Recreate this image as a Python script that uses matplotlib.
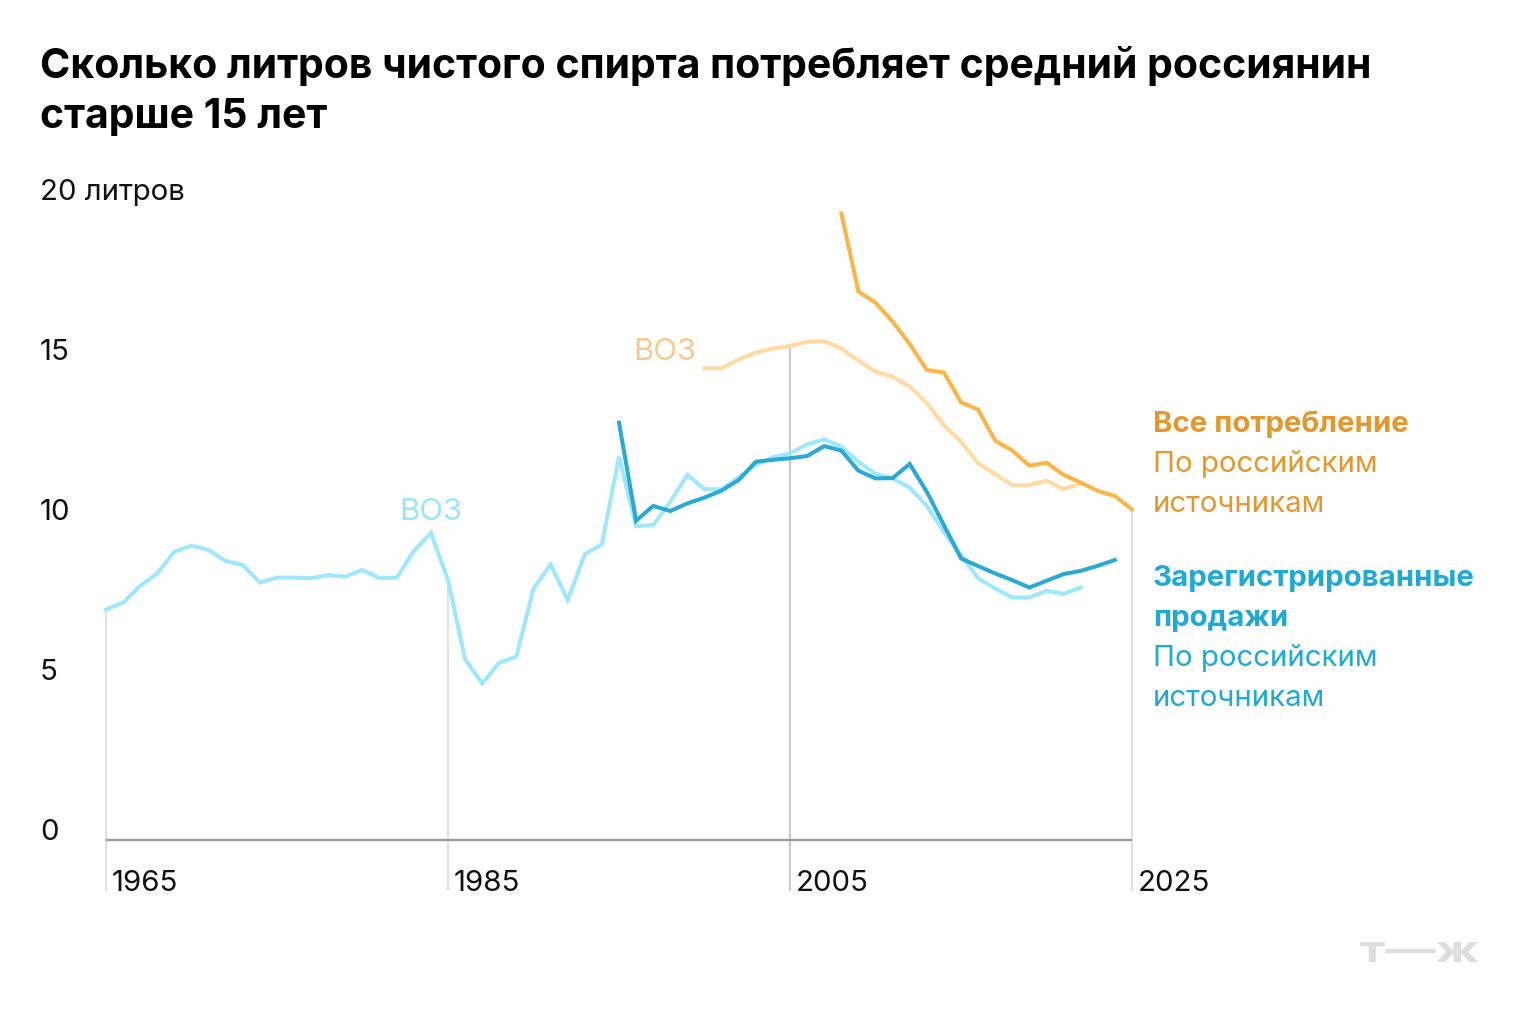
import matplotlib
matplotlib.use("Agg")
import matplotlib.pyplot as plt
import matplotlib.transforms as mtransforms
from matplotlib.textpath import TextPath
from matplotlib.patches import PathPatch
from matplotlib.font_manager import FontProperties
import numpy as np

plt.rcParams['font.family'] = ['Inter', 'DejaVu Sans']

# ---------------- data ----------------
who_years = list(range(1965, 2023))
who_values = [7.2, 7.42, 7.94, 8.33, 9.01, 9.20, 9.06, 8.72, 8.59, 8.05,
              8.20, 8.20, 8.18, 8.28, 8.23, 8.44, 8.18, 8.20, 9.03, 9.60,
              8.12, 5.65, 4.89, 5.54, 5.73, 7.86, 8.61, 7.50, 8.93, 9.24,
              11.98, 9.81, 9.84, 10.57, 11.41, 10.96, 10.96, 11.33, 11.72, 11.96,
              12.08, 12.36, 12.52, 12.29, 11.82, 11.44, 11.30, 11.01, 10.44, 9.63,
              8.90, 8.18, 7.86, 7.58, 7.58, 7.79, 7.69, 7.89]

sales_years = list(range(1995, 2025))
sales_values = [13.04, 9.98, 10.44, 10.28, 10.52, 10.70, 10.92, 11.25, 11.82, 11.88,
                11.93, 12.00, 12.31, 12.17, 11.54, 11.30, 11.31, 11.75, 10.88, 9.84,
                8.80, 8.56, 8.33, 8.12, 7.89, 8.10, 8.31, 8.41, 8.57, 8.75]

who_total_years = list(range(2000, 2023))
who_total_values = [14.74, 14.74, 15.02, 15.23, 15.36, 15.44, 15.57, 15.59, 15.36, 14.98,
                    14.64, 14.48, 14.17, 13.65, 12.96, 12.45, 11.77, 11.43, 11.09, 11.09,
                    11.23, 10.97, 11.14]

total_years = list(range(2008, 2026))
total_values = [19.58, 17.14, 16.79, 16.20, 15.50, 14.69, 14.61, 13.68, 13.45, 12.48,
                12.17, 11.70, 11.79, 11.41, 11.17, 10.91, 10.75, 10.33]

x_ticks = [1965, 1985, 2005, 2025]
y_ticks = [0, 5, 10, 15, 20]
y_tick_labels = ['0', '5', '10', '15', '20 литров']

title_lines = ["Сколько литров чистого спирта потребляет средний россиянин",
               "старше 15 лет"]

# ---------------- colours ----------------
c_who = '#9ee7fd'
c_sales = '#2aa9d2'
c_who_total = '#ffdaa3'
c_total = '#fdb446'
c_legend_orange = '#e3972f'
c_legend_blue = '#1fa9d3'
c_who_text_orange = '#f4cb8e'
c_who_text_blue = '#9be4fb'

W, H = 1520, 1022
fig = plt.figure(figsize=(W / 100, H / 100), dpi=100)
fig.patch.set_facecolor('white')

def fx(px):
    return px / W

def fy(py):
    return 1 - py / H

ax = fig.add_axes([fx(106), fy(840), fx(1132) - fx(106), fy(200) - fy(840)])
ax.set_xlim(1965, 2025)
ax.set_ylim(0, 20)
ax.axis('off')

def value_at(years, values, yr):
    return values[years.index(yr)]

vtops = {
    1965: value_at(who_years, who_values, 1965),
    1985: value_at(who_years, who_values, 1985),
    2005: value_at(who_total_years, who_total_values, 2005),
    2025: value_at(total_years, total_values, 2025),
}
for yr in x_ticks:
    col = '#c9c9c9' if yr == 2005 else '#e2e2e2'
    ax.plot([yr, yr], [-1.58, vtops[yr]], color=col, lw=1.4, clip_on=False, zorder=1,
            solid_capstyle='butt')

ax.plot([1965, 2025], [0, 0], color='#9a9a9a', lw=1.6, clip_on=False, zorder=2,
        solid_capstyle='butt')

lw = 2.9
ax.plot(who_total_years, who_total_values, color=c_who_total, lw=lw, zorder=3,
        clip_on=False, solid_joinstyle='miter')
ax.plot(total_years, total_values, color=c_total, lw=lw, zorder=4, clip_on=False,
        solid_joinstyle='miter')
ax.plot(who_years, who_values, color=c_who, lw=lw, zorder=5, clip_on=False,
        solid_joinstyle='miter')
ax.plot(sales_years, sales_values, color=c_sales, lw=lw, zorder=6, clip_on=False,
        solid_joinstyle='miter')

FS = 21.2

ytrans = mtransforms.blended_transform_factory(fig.transFigure, ax.transData)
for v, lab in zip(y_ticks, y_tick_labels):
    ax.text(fx(40), v, lab, transform=ytrans, ha='left', va='baseline',
            fontsize=FS, color='#111111')

xtrans = mtransforms.offset_copy(ax.transData, fig=fig, x=6, y=0, units='dots')
for yr in x_ticks:
    ax.text(yr, -1.36, str(yr), transform=xtrans, ha='left', va='center',
            fontsize=FS, color='#111111')

ax.text(1985.85, 10.25, 'ВОЗ', ha='right', va='center', fontsize=22.3,
        color=c_who_text_blue)
ax.text(1999.5, 15.25, 'ВОЗ', ha='right', va='center', fontsize=22.3,
        color=c_who_text_orange)

lx = fx(1153)
legend_items = [
    (424, 'Все потребление', 'bold', c_legend_orange),
    (464, 'По российским', 'normal', c_legend_orange),
    (504, 'источникам', 'normal', c_legend_orange),
    (578, 'Зарегистрированные', 'bold', c_legend_blue),
    (618, 'продажи', 'bold', c_legend_blue),
    (658, 'По российским', 'normal', c_legend_blue),
    (698, 'источникам', 'normal', c_legend_blue),
]
for py, txt, wt, col in legend_items:
    fig.text(lx, fy(py), txt, ha='left', va='center', fontsize=FS,
             fontweight=wt, color=col)

# title
for py, line in zip([78, 128], title_lines):
    fig.text(fx(40), fy(py), line, ha='left', va='baseline', fontsize=29.5,
             fontweight='bold', color='#000000')

# logo, stretched to the reference box (pixels)
tp = TextPath((0, 0), 'т—ж', size=40,
              prop=FontProperties(family='Inter', weight='bold'))
ext = tp.get_extents()
x0, x1, ytop, ybot = 1360, 1478, 942, 962
sx = (x1 - x0) / ext.width
sy = (ybot - ytop) / ext.height
tr = (mtransforms.Affine2D().translate(-ext.x0, -ext.y0).scale(sx, sy)
      .translate(x0, H - ybot))
fig.patches.append(PathPatch(tr.transform_path(tp), facecolor='#dedede',
                             edgecolor='none', transform=mtransforms.IdentityTransform()))

fig.savefig('out.png', dpi=100, facecolor='white')
